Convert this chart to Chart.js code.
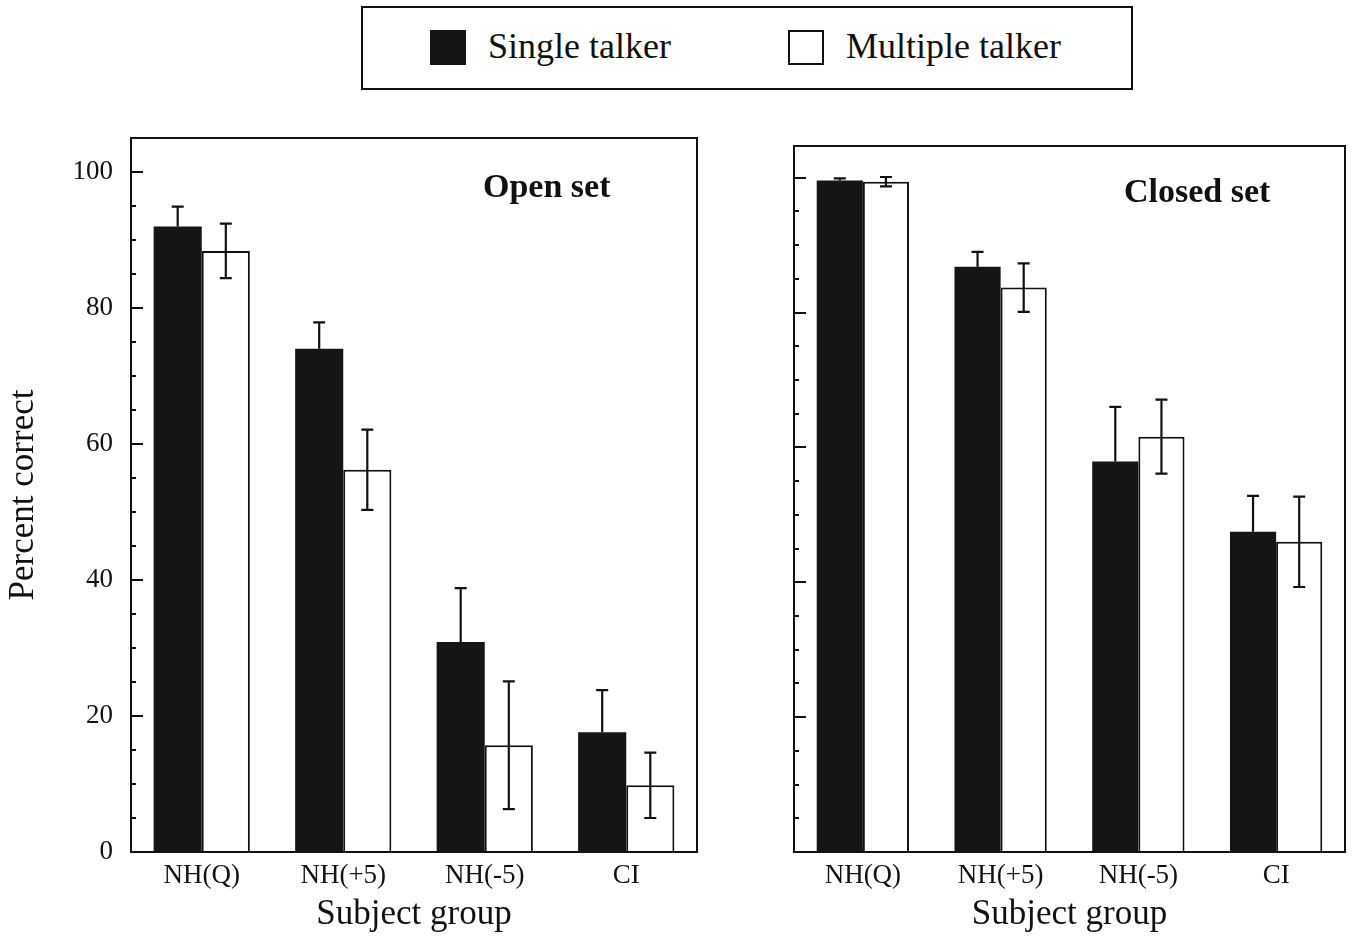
<!DOCTYPE html>
<html>
<head>
<meta charset="utf-8">
<script src="https://cdn.jsdelivr.net/npm/chart.js@4.4.0/dist/chart.umd.min.js"></script>
<style>
  body { margin: 0; background: #fff; width: 1354px; height: 938px; position: relative; overflow: hidden; font-family: "Liberation Serif", serif; }
  .wrap { position: absolute; }
  #legend { position: absolute; left: 361px; top: 6px; width: 772px; height: 84px; border: 2px solid #111; box-sizing: border-box; }
  #legend .sw { position: absolute; top: 22px; width: 36px; height: 35px; box-sizing: border-box; }
  #legend .lab { position: absolute; top: 16px; font-size: 36px; line-height: 44px; color: #111; }
</style>
</head>
<body>
<div id="legend">
  <div class="sw" style="left:67px; background:#151515;"></div>
  <div class="lab" style="left:125px;">Single talker</div>
  <div class="sw" style="left:425px; background:#fff; border:2px solid #111;"></div>
  <div class="lab" style="left:483px;">Multiple talker</div>
</div>
<div class="wrap" style="left:0; top:130px; width:720px; height:808px;"><canvas id="openChart"></canvas></div>
<div class="wrap" style="left:740px; top:130px; width:614px; height:808px;"><canvas id="closedChart"></canvas></div>
<script>
// dữ liệu
const groups = ["NH(Q)", "NH(+5)", "NH(-5)", "CI"];
const yTicks = [0, 20, 40, 60, 80, 100];

// Open set
const openSingle = [92.0, 74.0, 30.9, 17.6];
const openSingleErr = [2.9, 3.9, 7.9, 6.2];
const openMulti = [88.4, 56.2, 15.7, 9.8];
const openMultiErr = [4.0, 5.9, 9.4, 4.8];

// Closed set
const closedSingle = [99.6, 86.8, 57.9, 47.5];
const closedSingleErr = [0.3, 2.2, 8.1, 5.3];
const closedMulti = [99.4, 83.7, 61.6, 46.0];
const closedMultiErr = [0.7, 3.6, 5.5, 6.7];

const INK = '#111';

// khung, vạch chia hướng vào trong, thanh sai số, tiêu đề
const decorPlugin = {
    id: 'decor',
    afterDatasetsDraw(chart, args, opts) {
        const ctx = chart.ctx;
        const a = chart.chartArea;
        const y = chart.scales.y;
        ctx.save();
        ctx.strokeStyle = INK;
        ctx.lineWidth = 2;
        ctx.strokeRect(a.left, a.top, a.right - a.left, a.bottom - a.top);

        // ticks: major 20, minor 5
        ctx.beginPath();
        for (let v = 0; v <= 100; v += 5) {
            const py = Math.round(y.getPixelForValue(v));
            const len = (v % 20 === 0) ? 12 : 5;
            ctx.moveTo(a.left, py);
            ctx.lineTo(a.left + len, py);
        }
        ctx.stroke();

        // error bars
        ctx.lineWidth = 2.2;
        opts.errors.forEach((errs, di) => {
            const meta = chart.getDatasetMeta(di);
            const vals = chart.data.datasets[di].data;
            meta.data.forEach((bar, j) => {
                const x = bar.x;
                const top = y.getPixelForValue(vals[j] + errs[j]);
                const bot = opts.bothSides[di] ? y.getPixelForValue(vals[j] - errs[j]) : y.getPixelForValue(vals[j]);
                ctx.beginPath();
                ctx.moveTo(x, top); ctx.lineTo(x, bot);
                ctx.moveTo(x - 6, top); ctx.lineTo(x + 6, top);
                if (opts.bothSides[di]) { ctx.moveTo(x - 6, bot); ctx.lineTo(x + 6, bot); }
                ctx.stroke();
            });
        });

        ctx.fillStyle = INK;
        ctx.font = 'bold 34px "Liberation Serif"';
        ctx.textAlign = 'left';
        ctx.textBaseline = 'middle';
        ctx.fillText(opts.title, a.left + opts.titleDx, a.top + opts.titleDy);
        ctx.restore();
    }
};

function makeChart(id, single, singleErr, multi, multiErr, cfg) {
    new Chart(document.getElementById(id), {
        type: 'bar',
        data: {
            labels: groups,
            datasets: [
                { label: 'Single talker', data: single, backgroundColor: '#151515', borderWidth: 0 },
                { label: 'Multiple talker', data: multi, backgroundColor: '#fff', borderColor: INK, borderWidth: 2 }
            ]
        },
        options: {
            responsive: true,
            maintainAspectRatio: false,
            animation: false,
            layout: { padding: { left: 0, right: cfg.padRight, top: cfg.padTop, bottom: 0 } },
            datasets: { bar: { categoryPercentage: cfg.catPct, barPercentage: 1.0 } },
            plugins: {
                legend: { display: false },
                tooltip: { enabled: false },
                decor: { errors: [singleErr, multiErr], bothSides: [false, true], title: cfg.title, titleDx: cfg.titleDx, titleDy: cfg.titleDy }
            },
            scales: {
                x: {
                    grid: { display: false, drawTicks: false },
                    border: { display: false },
                    ticks: { color: INK, padding: 8, font: { family: 'Liberation Serif', size: 27 } },
                    title: { display: true, text: 'Subject group', color: INK, padding: { top: 0, bottom: 2 }, font: { family: 'Liberation Serif', size: 35 } },
                    afterFit: s => { s.height = 86; s.paddingLeft = 0; s.paddingRight = 0; }
                },
                y: {
                    min: 0, max: cfg.yMax,
                    grid: { display: false, drawTicks: false },
                    border: { display: false },
                    afterBuildTicks: s => { s.ticks = yTicks.map(v => ({ value: v })); },
                    ticks: { display: cfg.showY, color: INK, padding: 18, font: { family: 'Liberation Serif', size: 27 } },
                    title: { display: cfg.showY, text: 'Percent correct', color: INK, padding: { top: 3, bottom: 0 }, font: { family: 'Liberation Serif', size: 35 } },
                    afterFit: s => { s.width = cfg.yWidth; s.paddingTop = 0; s.paddingBottom = 0; }
                }
            }
        },
        plugins: [decorPlugin]
    });
}

makeChart('openChart', openSingle, openSingleErr, openMulti, openMultiErr,
    { padRight: 23, padTop: 8, catPct: 0.68, yMax: 105, title: 'Open set', titleDx: 352, titleDy: 50, showY: true, yWidth: 131 });
makeChart('closedChart', closedSingle, closedSingleErr, closedMulti, closedMultiErr,
    { padRight: 9, padTop: 16, catPct: 0.67, yMax: 104.7, title: 'Closed set', titleDx: 330, titleDy: 47, showY: false, yWidth: 54 });
</script>
</body>
</html>
